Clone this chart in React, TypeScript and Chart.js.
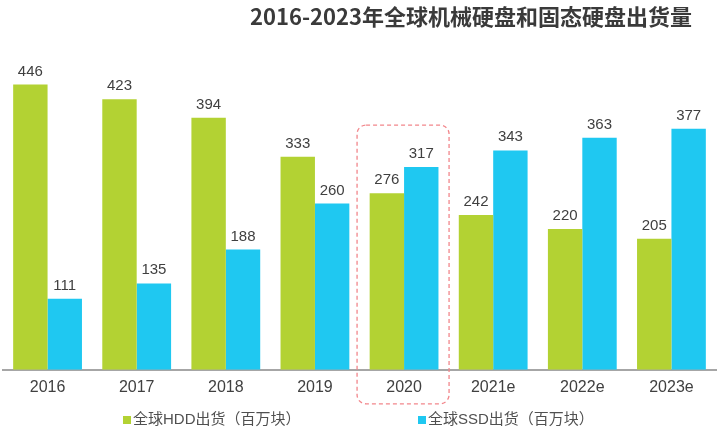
import React, { useRef, useEffect } from 'react';
import { Chart, registerables, Plugin } from 'chart.js';

Chart.register(...registerables);

const years = ['2016', '2017', '2018', '2019', '2020', '2021e', '2022e', '2023e'];
const hddShipments = [446, 423, 394, 333, 276, 242, 220, 205];
const ssdShipments = [111, 135, 188, 260, 317, 343, 363, 377];
const seriesNames = ['全球HDD出货（百万块）', '全球SSD出货（百万块）'];
const chartTitle = '2016-2023年全球机械硬盘和固态硬盘出货量';
const highlightIndex = 4;

const GREEN = '#b3d233';
const CYAN = '#1fc8f1';
const TEXT = '#404040';
const FONT = "'Liberation Sans', 'Noto Sans CJK SC', sans-serif";

const overlayPlugin: Plugin<'bar'> = {
  id: 'overlay',
  afterDatasetsDraw(chart) {
    const { ctx, chartArea } = chart;
    const xScale = chart.scales.x;
    const yScale = chart.scales.y;
    ctx.save();

    // value labels above bars
    ctx.font = `15px ${FONT}`;
    ctx.fillStyle = TEXT;
    ctx.textAlign = 'center';
    ctx.textBaseline = 'alphabetic';
    chart.data.datasets.forEach((ds, di) => {
      const meta = chart.getDatasetMeta(di);
      meta.data.forEach((bar, i) => {
        ctx.fillText(String(ds.data[i]), bar.x, bar.y - 9);
      });
    });

    // dashed highlight box around 2020
    const cx = xScale.getPixelForValue(highlightIndex);
    const top = yScale.getPixelForValue(Math.max(hddShipments[highlightIndex], ssdShipments[highlightIndex])) - 42;
    const bottom = chartArea.bottom + 34;
    const left = cx - 47;
    const right = cx + 45;
    ctx.strokeStyle = '#f2868b';
    ctx.lineWidth = 1.3;
    ctx.setLineDash([4, 3]);
    ctx.beginPath();
    ctx.roundRect(left, top, right - left, bottom - top, 9);
    ctx.stroke();
    ctx.setLineDash([]);

    // title
    ctx.font = `bold 22px 'Noto Sans CJK SC', ${FONT}`;
    ctx.fillStyle = '#3a3a3a';
    ctx.textBaseline = 'middle';
    ctx.fillText(chartTitle, 471, 17);

    // legend
    const legendX = [123, 418];
    const legendY = 420;
    ctx.font = `15px ${FONT}`;
    ctx.textAlign = 'left';
    chart.data.datasets.forEach((ds, di) => {
      ctx.fillStyle = ds.backgroundColor as string;
      ctx.fillRect(legendX[di], legendY - 4, 8, 8);
      ctx.fillStyle = '#505050';
      ctx.fillText(ds.label as string, legendX[di] + 10, legendY);
    });

    ctx.restore();
  },
};

const App: React.FC = () => {
  const chartRef = useRef<HTMLCanvasElement>(null);
  const chartInstance = useRef<Chart<'bar'> | null>(null);

  useEffect(() => {
    document.body.style.margin = '0';
    if (!chartRef.current) return;
    if (chartInstance.current) chartInstance.current.destroy();
    const ctx = chartRef.current.getContext('2d');
    if (!ctx) return;

    chartInstance.current = new Chart(ctx, {
      type: 'bar',
      data: {
        labels: years,
        datasets: [
          { label: seriesNames[0], data: hddShipments, backgroundColor: GREEN },
          { label: seriesNames[1], data: ssdShipments, backgroundColor: CYAN },
        ],
      },
      options: {
        responsive: true,
        maintainAspectRatio: false,
        animation: false,
        layout: { padding: { top: 50, left: 3, right: 12, bottom: 26 } },
        datasets: {
          bar: { categoryPercentage: 0.772, barPercentage: 1 },
        },
        plugins: {
          legend: { display: false },
          title: { display: false },
          tooltip: { enabled: false },
        },
        scales: {
          x: {
            grid: { display: false, drawTicks: false },
            border: { display: true, color: '#a6a6a6', width: 2 },
            ticks: {
              color: TEXT,
              padding: 8,
              font: { family: FONT, size: 16 },
            },
          },
          y: {
            display: false,
            min: 0,
            max: 500,
          },
        },
      },
      plugins: [overlayPlugin],
    });

    return () => {
      if (chartInstance.current) {
        chartInstance.current.destroy();
        chartInstance.current = null;
      }
    };
  }, []);

  return (
    <div style={{ width: 728, height: 431, position: 'relative', background: '#fff' }}>
      <canvas ref={chartRef} />
    </div>
  );
};

export default App;
